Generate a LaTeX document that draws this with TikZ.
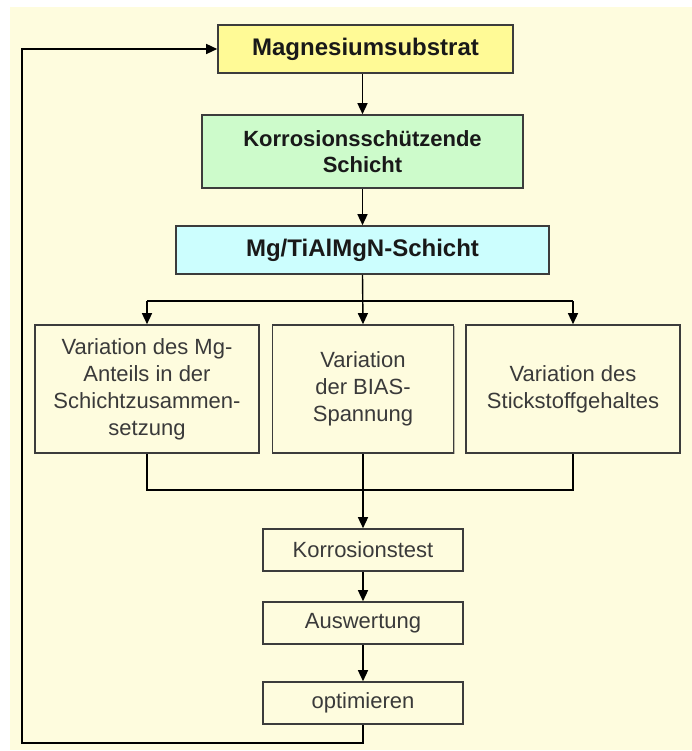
\documentclass[tikz,border=0pt]{standalone}
\usepackage{fontspec}
\setmainfont{Liberation Sans}
\usetikzlibrary{arrows.meta,shadows}
\definecolor{bgcream}{HTML}{FEFCDE}
\definecolor{boxyellow}{HTML}{FFFA96}
\definecolor{boxgreen}{HTML}{CDFBCB}
\definecolor{boxcyan}{HTML}{CCFEFE}
\definecolor{txtgray}{HTML}{3A3A3A}
\definecolor{bordergray}{HTML}{3C3C3C}
\tikzset{
  box/.style={draw=bordergray, line width=1.6pt, rectangle, align=center, inner sep=2pt,
    fill=bgcream, text=txtgray, font=\fontsize{22}{27}\selectfont,
    drop shadow={shadow xshift=1.2pt, shadow yshift=-1.2pt, fill=black, opacity=0.25}},
  headbox/.style={box, text=black!90, font=\fontsize{24}{26}\selectfont\bfseries},
  arr/.style={line width=1.4pt, draw=black, -{Triangle[length=11pt,width=10pt]}},
  conn/.style={line width=1.4pt, draw=black},
}
\begin{document}
\begin{tikzpicture}[x=1pt,y=-1pt]
\useasboundingbox (0,0) rectangle (692,751);
\fill[bgcream] (10,7) rectangle (692,750);
\node[headbox, fill=boxyellow, minimum width=295pt, minimum height=48pt] (mag) at (365.5,49) {Magnesiumsubstrat};
\node[headbox, fill=boxgreen, minimum width=321pt, minimum height=73pt, font=\fontsize{22}{26}\selectfont\bfseries] (kor) at (362.5,151.5) {Korrosionsschützende\\Schicht};
\node[headbox, fill=boxcyan, minimum width=373pt, minimum height=48pt] (mgti) at (362.5,250) {Mg/TiAlMgN-Schicht};
\node[box, minimum width=224pt, minimum height=128pt] (b1) at (147,389) {Variation des Mg-\\Anteils in der\\Schichtzusammen-\\setzung};
\node[box, minimum width=181pt, minimum height=128pt] (b2) at (363,389) {Variation\\der BIAS-\\Spannung};
\node[box, minimum width=214pt, minimum height=128pt] (b3) at (573,389) {Variation des\\Stickstoffgehaltes};
\node[box, minimum width=200pt, minimum height=42pt] (kt) at (363,550) {Korrosionstest};
\node[box, minimum width=200pt, minimum height=42pt] (aw) at (363,623) {Auswertung};
\node[box, minimum width=200pt, minimum height=42pt] (opt) at (363,703) {optimieren};
\coordinate (br) at (363,301);
\coordinate (mg) at (363,490);
\coordinate (fb) at (22,743);
\draw[arr] (mag.south -| kor.north) -- (kor.north);
\draw[arr] (kor) -- (mgti);
\draw[arr] (mgti.south) -- (b2.north);
\draw[conn] (b1 |- br) -- (b3 |- br);
\draw[arr] (b1 |- br) -- (b1.north);
\draw[arr] (b3 |- br) -- (b3.north);
\draw[conn] (b1.south) -- (b1.south |- mg) -- (b3.south |- mg) -- (b3.south);
\draw[arr] (b2.south) -- (kt.north);
\draw[arr] (kt) -- (aw);
\draw[arr] (aw) -- (opt);
\draw[arr] (opt.south) |- (fb) |- (mag.west);
\end{tikzpicture}
\end{document}
